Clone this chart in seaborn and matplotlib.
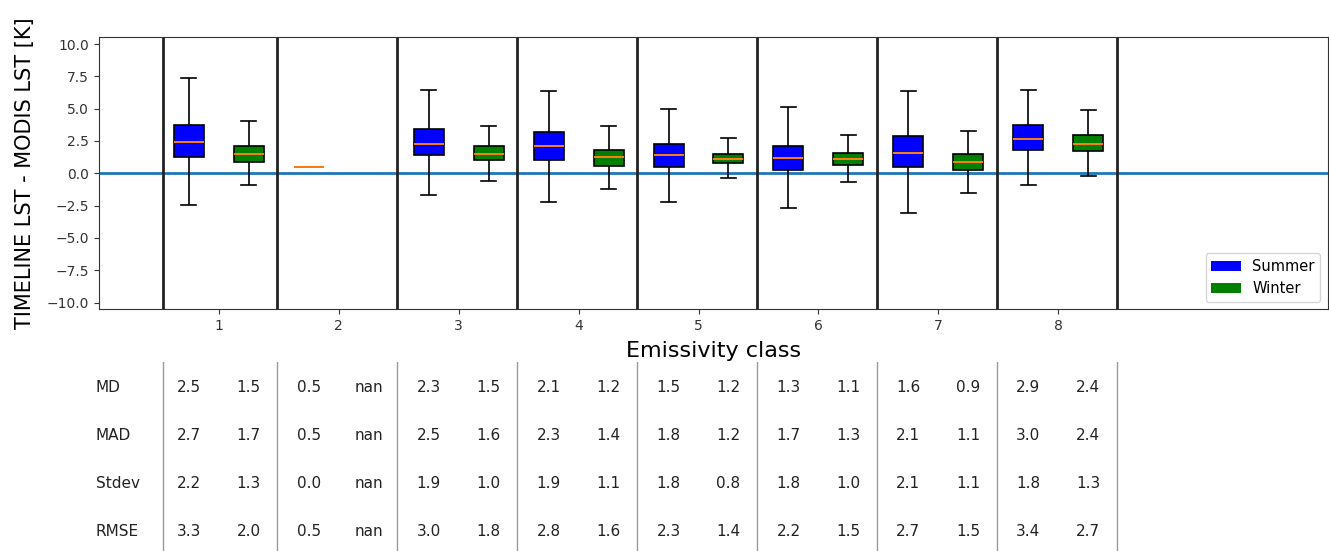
import numpy as np
import pandas as pd
import matplotlib
matplotlib.use("Agg")
import matplotlib.pyplot as plt
from matplotlib.patches import Patch
import seaborn as sns

# ---------------- data ----------------
classes = [1, 2, 3, 4, 5, 6, 7, 8]
seasons = ["Summer", "Winter"]

summer_lo = [-2.49, 0.45, -1.69, -2.23, -2.23, -2.72, -3.05, -0.90]
summer_q1 = [1.28, 0.45, 1.38, 1.00, 0.46, 0.23, 0.46, 1.82]
summer_med = [2.41, 0.45, 2.28, 2.08, 1.38, 1.15, 1.59, 2.62]
summer_q3 = [3.74, 0.45, 3.44, 3.18, 2.28, 2.15, 2.85, 3.74]
summer_hi = [7.36, 0.45, 6.46, 6.36, 5.00, 5.10, 6.36, 6.46]

nan = float("nan")
winter_lo = [-0.87, nan, -0.56, -1.23, -0.33, -0.67, -1.56, -0.23]
winter_q1 = [0.90, nan, 1.00, 0.59, 0.77, 0.67, 0.23, 1.69]
winter_med = [1.49, nan, 1.49, 1.26, 1.13, 1.13, 0.90, 2.28]
winter_q3 = [2.15, nan, 2.08, 1.82, 1.49, 1.59, 1.46, 2.95]
winter_hi = [4.08, nan, 3.64, 3.64, 2.74, 2.95, 3.28, 4.90]

row_labels = ["MD", "MAD", "Stdev", "RMSE"]
md_summer = [2.5, 0.5, 2.3, 2.1, 1.5, 1.3, 1.6, 2.9]
md_winter = [1.5, nan, 1.5, 1.2, 1.2, 1.1, 0.9, 2.4]
mad_summer = [2.7, 0.5, 2.5, 2.3, 1.8, 1.7, 2.1, 3.0]
mad_winter = [1.7, nan, 1.6, 1.4, 1.2, 1.3, 1.1, 2.4]
std_summer = [2.2, 0.0, 1.9, 1.9, 1.8, 1.8, 2.1, 1.8]
std_winter = [1.3, nan, 1.0, 1.1, 0.8, 1.0, 1.1, 1.3]
rmse_summer = [3.3, 0.5, 3.0, 2.8, 2.3, 2.2, 2.7, 3.4]
rmse_winter = [2.0, nan, 1.8, 1.6, 1.4, 1.5, 1.5, 2.7]

# ---------------- build long table from five-number summaries ----------------
rows = []
stats = {
    "Summer": (summer_lo, summer_q1, summer_med, summer_q3, summer_hi),
    "Winter": (winter_lo, winter_q1, winter_med, winter_q3, winter_hi),
}
for season, cols in stats.items():
    for i, c in enumerate(classes):
        vals = [col[i] for col in cols]
        if any(np.isnan(vals)):
            continue
        for v in vals:
            rows.append({"cls": c, "season": season, "value": v})
df = pd.DataFrame(rows)

# ---------------- figure ----------------
W, H = 1329, 551
fig = plt.figure(figsize=(W / 100, H / 100), dpi=100)
ax = fig.add_axes([98.7 / W, 1 - 309.3 / H, (1327.7 - 98.7) / W, (309.3 - 37.3) / H])

palette = {"Summer": "blue", "Winter": "green"}
sns.boxplot(
    data=df, x="cls", y="value", hue="season", hue_order=seasons,
    native_scale=True, width=1.0, gap=0.5, whis=(0, 100),
    palette=palette, saturation=1, linecolor="black", linewidth=1.2,
    medianprops=dict(color="#ff7f0e", linewidth=1.4),
    showfliers=False, legend=False, ax=ax, zorder=3,
)

ax.axhline(0, color="#1f77b4", lw=2, zorder=2)
sep_positions = [0.54] + [c + 0.49 for c in classes]
for xv in sep_positions:
    ax.axvline(xv, color="#222222", lw=2, zorder=2)

ax.set_xlim(0, 10.245)
ax.set_ylim(-10.52, 10.52)
ax.set_xticks(classes)
ax.set_xticklabels([str(c) for c in classes])
ax.set_yticks(np.arange(-10, 10.01, 2.5))
ax.tick_params(labelsize=10, colors="#333333")
for s in ax.spines.values():
    s.set_color("#333333")
ax.set_xlabel("Emissivity class", fontsize=16, labelpad=6)
ax.set_ylabel("TIMELINE LST - MODIS LST [K]", fontsize=15, labelpad=8)

handles = [Patch(facecolor=palette[s], edgecolor="none", label=s) for s in seasons]
ax.legend(handles=handles, loc="lower right", fontsize=10.5)

# ---------------- statistics table ----------------
tax = fig.add_axes([98.7 / W, 0, (1327.7 - 98.7) / W, (H - 362) / H])
tax.set_xlim(ax.get_xlim())
tax.set_ylim(H - 362, 0)
tax.axis("off")
for xv in sep_positions:
    tax.axvline(xv, color="#999999", lw=1)

table_vals = [
    (md_summer, md_winter),
    (mad_summer, mad_winter),
    (std_summer, std_winter),
    (rmse_summer, rmse_winter),
]
for r, (lab, (sv, wv)) in enumerate(zip(row_labels, table_vals)):
    y = 26 + 47.7 * r
    tax.text(-0.025, y, lab, ha="left", va="center", fontsize=11, color="#222222", clip_on=False)
    for i, c in enumerate(classes):
        tax.text(c - 0.25, y, f"{sv[i]:.1f}", ha="center", va="center", fontsize=11, color="#222222")
        tax.text(c + 0.25, y, f"{wv[i]:.1f}", ha="center", va="center", fontsize=11, color="#222222")

fig.savefig("out.png", dpi=100)
